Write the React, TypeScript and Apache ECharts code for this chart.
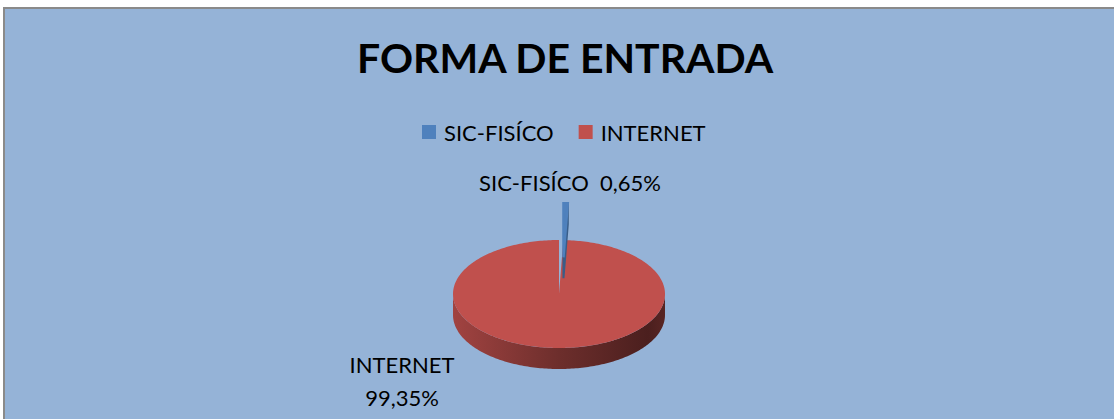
import React, { useEffect, useRef } from "react";
import * as echarts from "echarts";

const titleText = "FORMA DE ENTRADA";
const categories = ["SIC-FISÍCO", "INTERNET"];
const values = [0.65, 99.35];
const colors = ["#4F81BD", "#C0504D"];

const FONT = "Lato";
const CX = 559;
const CY = 294;
const RX = 106;
const RY = 54;
const DEPTH = 21;
const EXPLODE = [0.68, 0];
const LABEL_OFFSET = [
  [11, -112],
  [-157, 87],
];

function fmtPct(v: number) {
  return v.toFixed(2).replace(".", ",") + "%";
}

function darken(hex: string, k: number) {
  const n = parseInt(hex.slice(1), 16);
  const r = Math.round(((n >> 16) & 255) * k);
  const g = Math.round(((n >> 8) & 255) * k);
  const b = Math.round((n & 255) * k);
  return `rgb(${r},${g},${b})`;
}

function makeRender(idx: number) {
  return (params: any, api: any) => {
    const total = values.reduce((a, b) => a + b, 0);
    let start = 0;
    for (let j = 0; j < idx; j++) start += values[j];
    const a0 = (start / total) * Math.PI * 2;
    const a1 = ((start + values[idx]) / total) * Math.PI * 2;
    const mid = (a0 + a1) / 2;
    const e = EXPLODE[idx];
    const cx = CX + Math.sin(mid) * e * RX + (e > 0 ? 3 : 0);
    const cy = CY - Math.cos(mid) * e * RY;
    const pt = (t: number, dy = 0) => [cx + RX * Math.sin(t), cy - RY * Math.cos(t) + dy];
    const arc = (s: number, f: number, dy = 0) => {
      const n = Math.max(2, Math.ceil((f - s) / 0.02));
      const out: number[][] = [];
      for (let i = 0; i <= n; i++) out.push(pt(s + ((f - s) * i) / n, dy));
      return out;
    };
    const color = colors[idx];
    const zOff = e > 0 ? 10 : 0;
    const thin = e > 0;
    const children: any[] = [];
    const s = Math.max(a0, Math.PI / 2);
    const f = Math.min(a1, (Math.PI * 3) / 2);
    if (f > s) {
      const top = arc(s, f);
      const bot = arc(s, f, DEPTH).reverse();
      children.push({
        type: "polygon",
        z2: 1 + zOff,
        shape: { points: top.concat(bot) },
        style: {
          fill: {
            type: "linear",
            x: CX - RX,
            y: 0,
            x2: CX + RX,
            y2: 0,
            global: true,
            colorStops: [
              { offset: 0, color: darken(color, 0.84) },
              { offset: 0.5, color: darken(color, 0.57) },
              { offset: 0.92, color: darken(color, 0.39) },
              { offset: 1, color: darken(color, 0.46) },
            ],
          },
        },
      });
    }
    if (Math.sin(a1) > 0.001) {
      const rimT = pt(a1);
      const rimB = pt(a1, DEPTH);
      const wallColor = darken(color, 0.72);
      children.push({
        type: "polygon",
        z2: 2 + zOff,
        shape: { points: [[cx, cy], rimT, rimB, [cx, cy + DEPTH]] },
        style: { fill: wallColor, stroke: thin ? wallColor : null, lineWidth: thin ? 2 : 0 },
      });
    }
    children.push({
      type: "polygon",
      z2: 3 + zOff,
      shape: { points: [[cx, cy]].concat(arc(a0, a1)) },
      style: { fill: color, stroke: thin ? color : null, lineWidth: thin ? 2.5 : 0, lineJoin: "miter" },
    });
    const off = LABEL_OFFSET[idx];
    const pct = fmtPct((values[idx] / total) * 100);
    const lbl = idx === 0 ? categories[idx] + "  " + pct : categories[idx] + "\n" + pct;
    children.push({
      type: "text",
      z2: 20,
      x: CX + off[0],
      y: CY + off[1],
      style: {
        text: lbl,
        fill: "#000000",
        fontFamily: FONT,
        fontSize: 22,
        lineHeight: 33,
        align: "center",
        verticalAlign: "middle",
      },
    });
    return { type: "group", children };
  };
}

export default function App() {
  const ref = useRef<HTMLDivElement>(null);
  useEffect(() => {
    if (!ref.current) return;
    const chart = echarts.init(ref.current, null, { renderer: "svg" });
    chart.setOption({
      animation: false,
      backgroundColor: "#FFFFFF",
      graphic: [
        {
          type: "rect",
          z: -10,
          shape: { x: 4, y: 8, width: 1120, height: 420 },
          style: { fill: "#95B3D7", stroke: "#8A8A8A", lineWidth: 2 },
        },
      ],
      title: {
        text: titleText,
        left: 352,
        top: 32,
        textStyle: {
          fontFamily: FONT,
          fontWeight: "bold",
          fontSize: 41,
          color: "#000000",
        },
      },
      legend: {
        left: 422,
        top: 121,
        padding: 0,
        icon: "rect",
        itemWidth: 14,
        itemHeight: 14,
        itemGap: 25,
        itemStyle: { borderWidth: 0 },
        textStyle: { fontFamily: FONT, fontSize: 22, color: "#000000", padding: [0, 0, 0, 3] },
        data: categories,
      },
      series: categories.map((name, i) => ({
        type: "custom",
        name,
        coordinateSystem: "none",
        itemStyle: { color: colors[i] },
        data: [values[i]],
        renderItem: makeRender(i),
        silent: true,
      })),
    });
    return () => chart.dispose();
  }, []);
  return (
    <div
      ref={ref}
      style={{ position: "absolute", left: 0, top: 0, width: 1114, height: 419 }}
    />
  );
}
